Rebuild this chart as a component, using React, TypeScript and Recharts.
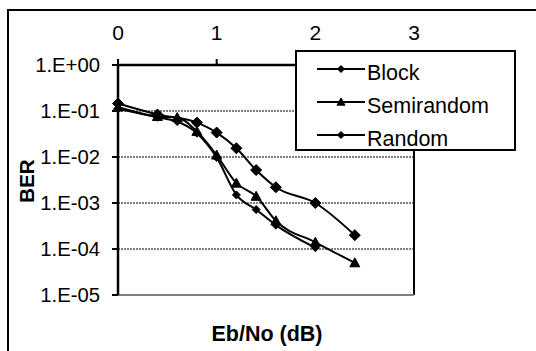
import React from 'react';
import { LineChart, Line, XAxis, YAxis, CartesianGrid, ReferenceLine } from 'recharts';

const blockX = [0, 0.4, 0.8, 1.0, 1.2, 1.4, 1.6, 2.0, 2.4];
const blockBER = [0.145, 0.084, 0.056, 0.034, 0.0155, 0.0052, 0.0022, 0.001, 0.0002];

const semiX = [0, 0.4, 0.6, 0.8, 1.0, 1.2, 1.4, 1.6, 2.0, 2.4];
const semiBER = [0.122, 0.076, 0.072, 0.036, 0.011, 0.0027, 0.0014, 0.00041, 0.00014, 0.00005];

const randomX = [0, 0.4, 0.6, 0.8, 1.0, 1.2, 1.4, 1.6, 2.0];
const randomBER = [0.112, 0.073, 0.059, 0.033, 0.0098, 0.0015, 0.00072, 0.00033, 0.000107];

const xTicks = [0, 1, 2, 3];
const yTicks = [1, 0.1, 0.01, 0.001, 0.0001, 0.00001];
const seriesNames = ['Block', 'Semirandom', 'Random'];

const blockData = blockX.map((x, i) => ({ x, ber: blockBER[i] }));
const semiData = semiX.map((x, i) => ({ x, ber: semiBER[i] }));
const randomData = randomX.map((x, i) => ({ x, ber: randomBER[i] }));

const FONT = '"Liberation Sans", Arial, sans-serif';

const fmtY = (v: number) => {
  const e = Math.round(Math.log10(v));
  const a = Math.abs(e);
  return '1.E' + (e >= 0 ? '+' : '-') + (a < 10 ? '0' + a : String(a));
};

const diamond = (cx: number, cy: number, r: number) =>
  `M${cx},${cy - r}L${cx + r},${cy}L${cx},${cy + r}L${cx - r},${cy}Z`;
const triangle = (cx: number, cy: number, r: number) =>
  `M${cx},${cy - r}L${cx + r},${cy + r * 0.8}L${cx - r},${cy + r * 0.8}Z`;

const makeDot = (kind: string, r: number) => (props: any) => {
  const { cx, cy, index } = props;
  if (cx == null || cy == null) return <g key={`${kind}-${index}`} />;
  const d = kind === 'tri' ? triangle(cx, cy, r) : diamond(cx, cy, r);
  return <path key={`${kind}-${index}`} d={d} fill="#000" stroke="#000" strokeWidth={1} />;
};

const LegendBox = () => {
  const rows = [19, 52, 85];
  return (
    <div
      style={{
        position: 'absolute',
        left: 295,
        top: 50,
        width: 221,
        height: 101,
        boxSizing: 'border-box',
        border: '2px solid #000',
        background: '#fff',
      }}
    >
      <svg width={217} height={97} style={{ display: 'block' }}>
        {seriesNames.map((n, i) => {
          const y = rows[i] - 2;
          const cx = 44;
          return (
            <g key={n}>
              <line x1={20} x2={68} y1={y} y2={y} stroke="#000" strokeWidth={2} />
              <path
                d={i === 1 ? triangle(cx, y, 4) : diamond(cx, y, 3.5)}
                fill="#000"
                stroke="#000"
              />
              <text x={70} y={y + 10.5} fontFamily={FONT} fontSize={21.5} fill="#000">
                {n}
              </text>
            </g>
          );
        })}
      </svg>
    </div>
  );
};

export default function App() {
  return (
    <div
      style={{
        position: 'absolute',
        left: 0,
        top: 0,
        width: 536,
        height: 351,
        overflow: 'hidden',
        background: '#fff',
      }}
    >
      <div
        style={{
          position: 'absolute',
          left: 7,
          top: 9,
          width: 700,
          height: 500,
          border: '2px solid #000',
        }}
      />
      <div style={{ position: 'absolute', left: 0, top: 0 }}>
        <LineChart
          width={536}
          height={351}
          margin={{ top: 0, right: 122, bottom: 56, left: 0 }}
          style={{ fontFamily: FONT }}
        >
          <CartesianGrid
            horizontal={true}
            vertical={false}
            stroke="#000"
            strokeWidth={1}
            strokeDasharray="2 1"
          />
          <XAxis
            dataKey="x"
            type="number"
            orientation="top"
            domain={[0, 3]}
            ticks={xTicks}
            height={65}
            allowDuplicatedCategory={false}
            axisLine={{ stroke: '#000', strokeWidth: 2.5 }}
            tickLine={{ stroke: '#000', strokeWidth: 2 }}
            tickSize={6}
            tickMargin={19}
            tick={{ fill: '#000', fontSize: 21, fontFamily: FONT }}
          />
          <YAxis
            dataKey="ber"
            type="number"
            scale="log"
            domain={[0.00001, 1]}
            ticks={yTicks}
            interval={0}
            allowDataOverflow
            width={118}
            axisLine={{ stroke: '#000', strokeWidth: 2.5 }}
            tickLine={{ stroke: '#000', strokeWidth: 2 }}
            tickSize={6}
            tickMargin={12}
            tickFormatter={fmtY}
            tick={{ fill: '#000', fontSize: 20.3, fontFamily: FONT }}
          />
          <ReferenceLine x={3} stroke="#000" strokeWidth={2} />
          <ReferenceLine y={0.00001} stroke="#808080" strokeWidth={2} />
          <Line
            data={blockData}
            dataKey="ber"
            name={seriesNames[0]}
            type="monotone"
            stroke="#000"
            strokeWidth={2}
            dot={makeDot('dia', 5.5)}
            isAnimationActive={false}
          />
          <Line
            data={semiData}
            dataKey="ber"
            name={seriesNames[1]}
            type="monotone"
            stroke="#000"
            strokeWidth={2}
            dot={makeDot('tri', 5)}
            isAnimationActive={false}
          />
          <Line
            data={randomData}
            dataKey="ber"
            name={seriesNames[2]}
            type="monotone"
            stroke="#000"
            strokeWidth={2}
            dot={makeDot('dia', 4)}
            isAnimationActive={false}
          />
          <text
            x={26}
            y={181}
            transform="rotate(-90 26 181)"
            textAnchor="middle"
            dominantBaseline="central"
            fontFamily={FONT}
            fontSize={20.5}
            fontWeight="bold"
            fill="#000"
          >
            BER
          </text>
          <text
            x={267}
            y={341}
            textAnchor="middle"
            fontFamily={FONT}
            fontSize={21.5}
            fontWeight="bold"
            fill="#000"
          >
            Eb/No (dB)
          </text>
        </LineChart>
      </div>
      <LegendBox />
    </div>
  );
}
